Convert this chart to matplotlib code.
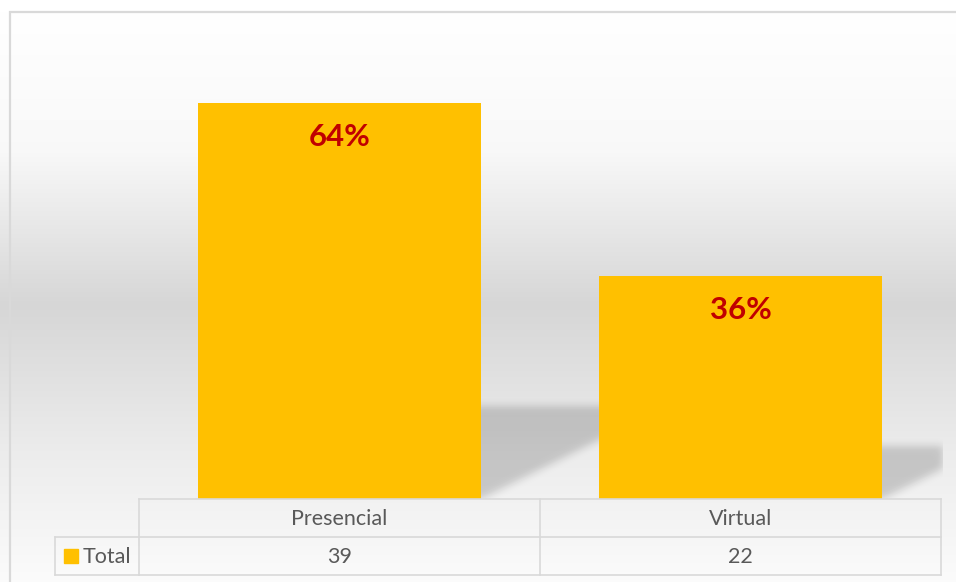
import numpy as np
import matplotlib
matplotlib.use("Agg")
import matplotlib.pyplot as plt
from matplotlib.patches import Rectangle
from matplotlib.transforms import blended_transform_factory

plt.rcParams['font.family'] = ['Lato', 'DejaVu Sans']

# data
categories = ["Presencial", "Virtual"]
totals = [39, 22]
series_name = "Total"

W, H = 956, 582
BAR_COLOR = "#FFC000"
GRID_COLOR = "#D9D9D9"
TEXT_COLOR = "#595959"

fig = plt.figure(figsize=(W / 100, H / 100), dpi=100)

# background gradient (white -> gray -> white), pixel coords
bg = fig.add_axes([0, 0, 1, 1], zorder=0)
rows = np.arange(H) + 0.5
shade = np.interp(rows, [12, 150, 305, 450, 582], [1.0, 0.975, 0.84, 0.925, 0.985])
grad = np.repeat(np.repeat(shade[:, None, None], 3, axis=2), 16, axis=1)
bg.imshow(grad, aspect="auto", extent=(0, W, H, 0), interpolation="nearest")
bg.set_xlim(0, W)
bg.set_ylim(H, 0)
bg.axis("off")

# plot area
left_px, right_px, bottom_px, top_px = 139, 943, 499, 42
ax = fig.add_axes([left_px / W, (H - bottom_px) / H,
                   (right_px - left_px) / W, (bottom_px - top_px) / H], zorder=1)
ax.patch.set_alpha(0)
x = np.arange(len(categories))
xmax = -0.5 + (right_px - left_px) / 401
ax.set_xlim(-0.5, xmax)
ax.set_ylim(0, 45)
ax.axis("off")

bar_w = 0.708
ax.bar(x, totals, width=bar_w, color=BAR_COLOR, zorder=3)

# perspective shadow, rasterised on a pixel grid in data space then blurred
nx, ny = right_px - left_px, bottom_px - top_px
sx = nx / (xmax + 0.5)
sy = ny / 45.0
gx = -0.5 + (np.arange(nx) + 0.5) / sx
gy = (np.arange(ny)[::-1] + 0.5) / sy
XX, YY = np.meshgrid(gx, gy)
mask = np.zeros_like(XX)
k = 2.0  # horizontal skew per unit of shadow height (in px)
for xi, v in zip(x, totals):
    sh = 0.235 * v
    shift = k * YY * sy / sx
    inside = (YY <= sh) & (XX >= xi - bar_w / 2 + shift) & (XX <= xi + bar_w / 2 + shift)
    mask[inside] = 1.0

def blur(a, sigma):
    r = int(3 * sigma)
    t = np.arange(-r, r + 1)
    ker = np.exp(-t ** 2 / (2 * sigma ** 2))
    ker /= ker.sum()
    a = np.apply_along_axis(lambda m: np.convolve(m, ker, mode="same"), 0, a)
    a = np.apply_along_axis(lambda m: np.convolve(m, ker, mode="same"), 1, a)
    return a

mask = blur(mask, 4.0)
rgba = np.zeros((ny, nx, 4))
rgba[..., 3] = mask * 0.17
ax.imshow(rgba, extent=(-0.5, xmax, 0, 45), aspect="auto", zorder=2,
          interpolation="nearest")

# percentage labels
share = [round(v / sum(totals) * 100) for v in totals]
for xi, v, p in zip(x, totals, share):
    ax.text(xi, v - 3.35, f"{p}%", ha="center", va="center",
            fontsize=22.5, fontweight="bold", color="#C00000", zorder=4)

# overlay for data table and frame
ov = fig.add_axes([0, 0, 1, 1], zorder=2)
ov.patch.set_alpha(0)
ov.set_xlim(0, W)
ov.set_ylim(H, 0)
ov.axis("off")
tr = blended_transform_factory(ax.transData, ov.transData)

# chart frame (left and top edges visible)
ov.plot([10, 10, W], [H, 12, 12], color=GRID_COLOR, lw=1.6, solid_joinstyle="miter")

lw = 1.2
edges = np.arange(len(categories) + 1) - 0.5
ov.plot([edges[0], edges[-1]], [499, 499], color=GRID_COLOR, lw=lw, transform=tr)
for xe in edges:
    ov.plot([xe, xe], [499, 575], color=GRID_COLOR, lw=lw, transform=tr)
for yy in (537, 575):
    ov.plot([55, 139], [yy, yy], color=GRID_COLOR, lw=lw)
    ov.plot([edges[0], edges[-1]], [yy, yy], color=GRID_COLOR, lw=lw, transform=tr)
ov.plot([55, 55], [537, 575], color=GRID_COLOR, lw=lw)

for xi, c, v in zip(x, categories, totals):
    ov.text(xi, 519, c, transform=tr, ha="center", va="center",
            fontsize=15.5, color=TEXT_COLOR)
    ov.text(xi, 557, str(v), transform=tr, ha="center", va="center",
            fontsize=15.5, color=TEXT_COLOR)

ov.add_patch(Rectangle((64, 549), 14, 14, color=BAR_COLOR))
ov.text(83, 557, series_name, ha="left", va="center", fontsize=15.5, color=TEXT_COLOR)

fig.savefig("out.png", dpi=100)
